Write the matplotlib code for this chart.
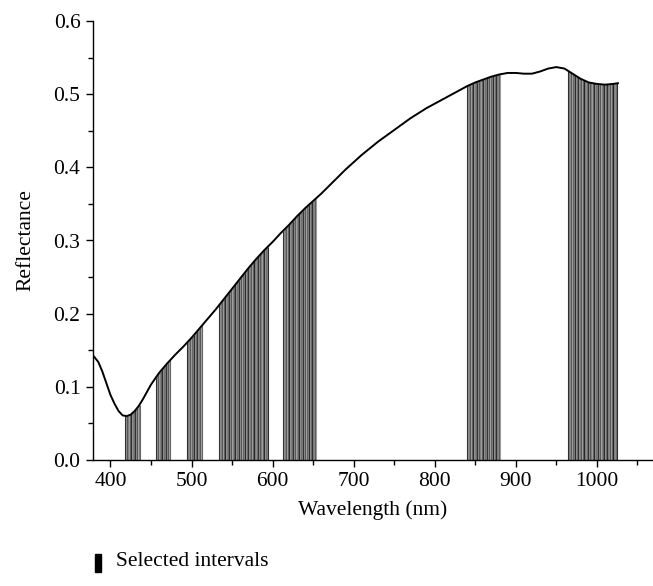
import numpy as np
import matplotlib
matplotlib.use("Agg")
import matplotlib.pyplot as plt
from matplotlib.patches import Rectangle
from matplotlib.ticker import MultipleLocator

# Reflectance spectrum
wavelength = [380, 385, 390, 395, 400, 405, 410, 415, 420, 425, 430, 435, 440, 445, 450,
              460, 470, 480, 490, 500, 510, 520, 530, 540, 550, 560, 570, 580, 590, 600,
              610, 620, 630, 640, 650, 660, 670, 680, 690, 700, 710, 720, 730, 740, 750,
              760, 770, 780, 790, 800, 810, 820, 830, 840, 850, 860, 870, 880, 890, 900,
              910, 920, 930, 940, 950, 960, 970, 980, 990, 1000, 1010, 1020, 1026]
reflectance = [0.141, 0.134, 0.121, 0.105, 0.089, 0.077, 0.067, 0.061, 0.060, 0.062, 0.067, 0.074,
               0.083, 0.093, 0.103, 0.119, 0.132, 0.144, 0.155, 0.167, 0.180, 0.193, 0.206, 0.220,
               0.234, 0.248, 0.262, 0.275, 0.287, 0.298, 0.310, 0.321, 0.333, 0.344, 0.354, 0.364,
               0.375, 0.386, 0.397, 0.407, 0.417, 0.426, 0.435, 0.443, 0.451, 0.459, 0.467, 0.474,
               0.481, 0.487, 0.493, 0.499, 0.505, 0.511, 0.516, 0.520, 0.524, 0.527, 0.529, 0.529,
               0.528, 0.528, 0.531, 0.535, 0.537, 0.535, 0.528, 0.521, 0.516, 0.514, 0.513, 0.514, 0.515]

# Selected wavelength intervals (start, end) in nm
interval_start = [418, 456, 495, 534, 613, 840, 965]
interval_end = [436, 475, 514, 594, 654, 881, 1026]
band_step = 1.5  # spacing of selected variables (nm)

x_ticks = [400, 500, 600, 700, 800, 900, 1000]
y_ticks = [0.0, 0.1, 0.2, 0.3, 0.4, 0.5, 0.6]

plt.rcParams['font.family'] = ['Liberation Serif', 'DejaVu Serif']
FS = 15.5

fig = plt.figure(figsize=(6.53, 5.86), dpi=100)
ax = fig.add_axes([93 / 653, 1 - 460 / 586, (652 - 93) / 653, (460 - 21) / 586])

wl = np.array(wavelength, dtype=float)
rf = np.array(reflectance, dtype=float)

shades = ['#2e2e2e', '#8c8c8c', '#555555', '#a0a0a0', '#666666', '#262626', '#909090', '#707070']
for s, e in zip(interval_start, interval_end):
    xs = np.arange(s, e + 0.01, band_step)
    ax.fill_between(xs, 0, np.interp(xs, wl, rf), color='#808080', lw=0, zorder=1)
    for i, xv in enumerate(xs):
        ax.vlines(xv, 0, np.interp(xv, wl, rf), color=shades[i % len(shades)],
                  lw=0.8, zorder=2)

ax.plot(wl, rf, color='black', lw=1.4, zorder=3)

ax.set_xlim(378.5, 1068)
ax.set_ylim(0, 0.6)
ax.set_xticks(x_ticks)
ax.set_yticks(y_ticks)
ax.set_yticklabels([f"{v:.1f}" for v in y_ticks])
ax.xaxis.set_minor_locator(MultipleLocator(50))
ax.yaxis.set_minor_locator(MultipleLocator(0.05))
for sp in ['top', 'right']:
    ax.spines[sp].set_visible(False)
for sp in ['left', 'bottom']:
    ax.spines[sp].set_linewidth(1.0)
ax.tick_params(which='major', direction='out', length=5, width=1.0, labelsize=FS, pad=4)
ax.tick_params(which='minor', direction='out', length=3.5, width=1.0)
ax.set_xlabel('Wavelength (nm)', fontsize=FS, labelpad=6)
ax.set_ylabel('Reflectance', fontsize=FS, labelpad=13)

# Legend
fig.patches.append(Rectangle((95 / 653, 1 - 572 / 586), 6 / 653, 18 / 586,
                             transform=fig.transFigure, color='black'))
fig.text(116 / 653, 1 - 562 / 586, 'Selected intervals', fontsize=FS, va='center', ha='left')

fig.savefig('out.png', dpi=100)
